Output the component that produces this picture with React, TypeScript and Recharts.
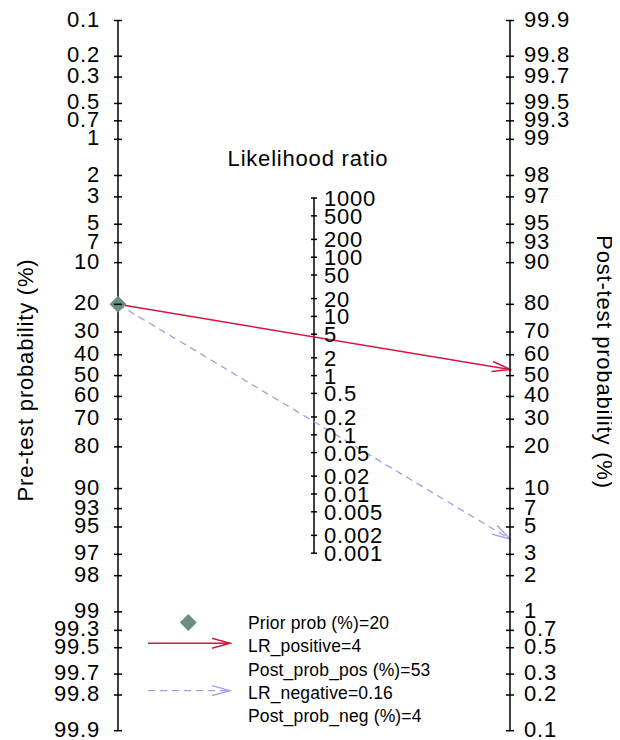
import React from 'react';
import { ComposedChart, XAxis, YAxis, Line, Scatter, ReferenceLine } from 'recharts';

// ---- data ----
const probTicks = [0.1, 0.2, 0.3, 0.5, 0.7, 1, 2, 3, 5, 7, 10, 20, 30, 40, 50, 60, 70, 80, 90, 93, 95, 97, 98, 99, 99.3, 99.5, 99.7, 99.8, 99.9];
const lrTicks = [1000, 500, 200, 100, 50, 20, 10, 5, 2, 1, 0.5, 0.2, 0.1, 0.05, 0.02, 0.01, 0.005, 0.002, 0.001];
const priorProb = 20;
const lrPositive = 4;
const lrNegative = 0.16;
const postProbPos = 53;
const postProbNeg = 4;

const logit = (pct: number) => Math.log(pct / (100 - pct));
const D = logit(probTicks[probTicks.length - 1]);

const leftTickPos = probTicks.map((p) => -logit(p));
const rightTickPos = probTicks.map((p) => logit(p));
const midData = lrTicks.map((lr) => ({ x: 0.5, y: Math.log(lr) / 2, label: String(lr) }));
const priorData = [{ x: 0, y: -logit(priorProb) }];
const posLine = [{ x: 0, y: -logit(priorProb) }, { x: 1, y: logit(postProbPos) }];
const negLine = [{ x: 0, y: -logit(priorProb) }, { x: 1, y: logit(postProbNeg) }];

const FONT = '"Liberation Sans", Arial, Helvetica, sans-serif';
const RED = '#d0173f';
const PURPLE = '#a09ee8';
const GREEN = '#6a8f80';
const TICK_FS = 22;
const LS = 0.8;

const nearestProb = (p: number) => {
  let best = probTicks[0];
  for (const t of probTicks) if (Math.abs(t - p) < Math.abs(best - p)) best = t;
  return String(best);
};

const LeftTick = (props: any) => {
  const { x, y, payload } = props;
  const p = 100 / (1 + Math.exp(payload.value));
  return (
    <g>
      <line x1={x - 4} x2={x + 4} y1={y} y2={y} stroke="#000" strokeWidth={1.5} />
      <text x={x - 18} y={y + 6} textAnchor="end" fontSize={TICK_FS} fontFamily={FONT} letterSpacing={LS} fill="#000">
        {nearestProb(p)}
      </text>
    </g>
  );
};

const RightTick = (props: any) => {
  const { x, y, payload } = props;
  const p = 100 / (1 + Math.exp(-payload.value));
  return (
    <g>
      <line x1={x - 4} x2={x + 4} y1={y} y2={y} stroke="#000" strokeWidth={1.5} />
      <text x={x + 14} y={y + 6} textAnchor="start" fontSize={TICK_FS} fontFamily={FONT} letterSpacing={LS} fill="#000">
        {nearestProb(p)}
      </text>
    </g>
  );
};

const MidTick = (props: any) => {
  const { cx, cy, payload } = props;
  return (
    <g>
      <line x1={cx - 3} x2={cx + 3} y1={cy} y2={cy} stroke="#000" strokeWidth={1.5} />
      <text x={cx + 10} y={cy + 8} textAnchor="start" fontSize={TICK_FS} fontFamily={FONT} letterSpacing={LS} fill="#000">
        {payload.label}
      </text>
    </g>
  );
};

const Diamond = (props: any) => {
  const { cx, cy } = props;
  const s = 8.5;
  return <polygon points={`${cx},${cy - s} ${cx + s},${cy} ${cx},${cy + s} ${cx - s},${cy}`} fill={GREEN} />;
};

const Defs = () => (
  <defs>
    <marker id="arrRed" markerUnits="userSpaceOnUse" markerWidth={22} markerHeight={14} viewBox="0 -7 22 14" refX={19} refY={0} orient="auto">
      <path d="M1,-5 L19,0 L1,5" fill="none" stroke={RED} strokeWidth={1.5} />
    </marker>
    <marker id="arrPurple" markerUnits="userSpaceOnUse" markerWidth={22} markerHeight={14} viewBox="0 -7 22 14" refX={19} refY={0} orient="auto">
      <path d="M1,-5 L19,0 L1,5" fill="none" stroke={PURPLE} strokeWidth={1.3} strokeDasharray="none" />
    </marker>
  </defs>
);

const Texts = () => (
  <g fontFamily={FONT} fill="#000">
    <text x={300} y={158} textAnchor="middle" fontSize={TICK_FS} letterSpacing={LS}>Likelihood ratio</text>
    <text transform="translate(25,372) rotate(-90)" textAnchor="middle" fontSize={TICK_FS} letterSpacing={LS}>Pre-test probability (%)</text>
    <text transform="translate(589,354) rotate(90)" textAnchor="middle" fontSize={TICK_FS} letterSpacing={LS}>Post-test probability (%)</text>
  </g>
);

const LegendBox = () => {
  const fs = 17.5;
  const tx = 240;
  const rows = [
    `Prior prob (%)=${priorProb}`,
    `LR_positive=${lrPositive}`,
    `Post_prob_pos (%)=${postProbPos}`,
    `LR_negative=${lrNegative}`,
    `Post_prob_neg (%)=${postProbNeg}`,
  ];
  const base = [621, 644.3, 667.6, 691, 714.3];
  return (
    <g fontFamily={FONT}>
      <polygon points="180.3,606 188.8,614.5 180.3,623 171.8,614.5" fill={GREEN} />
      <line x1={140} x2={222} y1={635.3} y2={635.3} stroke={RED} strokeWidth={1.5} markerEnd="url(#arrRed)" />
      <line x1={140} x2={222} y1={682.7} y2={682.7} stroke={PURPLE} strokeWidth={1.3} strokeDasharray="7 5" markerEnd="url(#arrPurple)" />
      {rows.map((r, i) => (
        <text key={i} x={tx} y={base[i]} fontSize={fs} letterSpacing={0.15} fill="#000">{r}</text>
      ))}
    </g>
  );
};

export default function App() {
  return (
    <ComposedChart width={604} height={732} margin={{ top: 12.5, right: 42, bottom: 9.3, left: 50 }}>
      <Defs />
      <XAxis xAxisId="x" type="number" dataKey="x" domain={[0, 1]} hide />
      <YAxis
        yAxisId="left"
        orientation="left"
        type="number"
        domain={[-D, D]}
        ticks={leftTickPos}
        interval={0}
        width={60}
        tickSize={0}
        tickMargin={0}
        tickLine={false}
        axisLine={{ stroke: '#000', strokeWidth: 1.5 }}
        tick={<LeftTick />}
      />
      <YAxis
        yAxisId="right"
        orientation="right"
        type="number"
        domain={[-D, D]}
        allowDataOverflow
        ticks={rightTickPos}
        interval={0}
        width={60}
        tickSize={0}
        tickMargin={0}
        tickLine={false}
        axisLine={{ stroke: '#000', strokeWidth: 1.5 }}
        tick={<RightTick />}
      />
      <ReferenceLine
        xAxisId="x"
        yAxisId="left"
        segment={[
          { x: 0.5, y: Math.log(Math.min(...lrTicks)) / 2 },
          { x: 0.5, y: Math.log(Math.max(...lrTicks)) / 2 },
        ]}
        stroke="#000"
        strokeWidth={1.5}
        ifOverflow="visible"
      />
      <Scatter xAxisId="x" yAxisId="left" data={midData} dataKey="y" shape={<MidTick />} isAnimationActive={false} />
      <Line
        xAxisId="x"
        yAxisId="left"
        data={posLine}
        dataKey="y"
        type="linear"
        stroke={RED}
        strokeWidth={1.5}
        dot={false}
        activeDot={false}
        markerEnd="url(#arrRed)"
        isAnimationActive={false}
      />
      <Line
        xAxisId="x"
        yAxisId="left"
        data={negLine}
        dataKey="y"
        type="linear"
        stroke={PURPLE}
        strokeWidth={1.3}
        strokeDasharray="7 5"
        dot={false}
        activeDot={false}
        markerEnd="url(#arrPurple)"
        isAnimationActive={false}
      />
      <Scatter xAxisId="x" yAxisId="left" data={priorData} dataKey="y" shape={<Diamond />} isAnimationActive={false} />
      <Texts />
      <LegendBox />
    </ComposedChart>
  );
}
